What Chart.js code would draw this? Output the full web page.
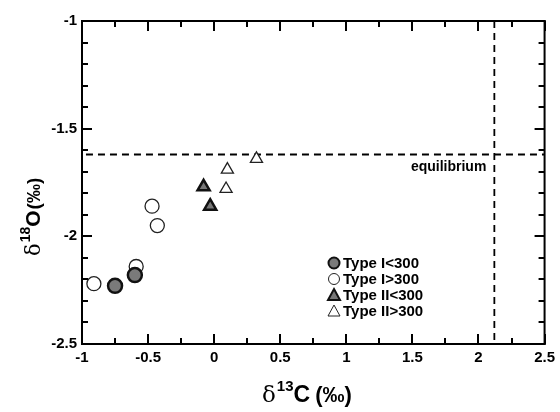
<!DOCTYPE html>
<html>
<head>
<meta charset="utf-8">
<script src="https://cdn.jsdelivr.net/npm/chart.js@4/dist/chart.umd.min.js"></script>
<style>
  html, body { margin: 0; padding: 0; background: #fff; }
  #wrap { width: 560px; height: 412px; }
</style>
</head>
<body>
<div id="wrap"><canvas id="myChart" width="560" height="412"></canvas></div>
<script>
// data
var typeILowC = [-0.75, -0.60];
var typeILowO = [-2.23, -2.18];
var typeIHighC = [-0.91, -0.59, -0.47, -0.43];
var typeIHighO = [-2.22, -2.14, -1.86, -1.95];
var typeIILowC = [-0.08, -0.03];
var typeIILowO = [-1.77, -1.86];
var typeIIHighC = [0.10, 0.09, 0.32];
var typeIIHighO = [-1.69, -1.78, -1.64];
var eqC = 2.12;
var eqO = -1.62;
var xTickLabels = ['-1', '-0.5', '0', '0.5', '1', '1.5', '2', '2.5'];
var yTickLabels = ['-1', '-1.5', '-2', '-2.5'];
var legendLabels = ['Type I<300', 'Type I>300', 'Type II<300', 'Type II>300'];

function pts(xs, ys) {
    return xs.map(function (x, i) { return { x: x, y: ys[i] }; });
}

var FONT = '"Liberation Sans", Arial, sans-serif';

function isMajor(v) {
    return Math.abs(v * 2 - Math.round(v * 2)) < 1e-6;
}

// inward ticks on all four sides, axis titles, legend and label
var decor = {
    id: 'decor',
    afterDraw: function (chart) {
        var ctx = chart.ctx;
        var a = chart.chartArea;
        var xs = chart.scales.x, ys = chart.scales.y;
        var k, v, p, len;
        ctx.save();
        ctx.setLineDash([]);
        ctx.fillStyle = '#000';
        // frame
        ctx.fillRect(a.left - 1, a.top - 1, a.right - a.left + 2, 2);
        ctx.fillRect(a.left - 1, a.bottom - 1, a.right - a.left + 2, 2);
        ctx.fillRect(a.left - 1, a.top - 1, 2, a.bottom - a.top + 2);
        ctx.fillRect(a.right - 1, a.top - 1, 2, a.bottom - a.top + 2);
        // ticks
        for (k = 0; k <= 14; k++) {
            v = -1 + k * 0.25;
            p = Math.round(xs.getPixelForValue(v));
            len = isMajor(v) ? 10 : 6;
            ctx.fillRect(p - 1, a.bottom - len, 2, len);
            ctx.fillRect(p - 1, a.top, 2, len);
        }
        for (k = 0; k <= 15; k++) {
            v = -2.5 + k * 0.1;
            p = Math.round(ys.getPixelForValue(v));
            len = isMajor(v) ? 10 : 6;
            ctx.fillRect(a.left, p - 1, len, 2);
            ctx.fillRect(a.right - len, p - 1, len, 2);
        }

        // equilibrium label
        ctx.font = 'bold 14px ' + FONT;
        ctx.textAlign = 'right';
        ctx.textBaseline = 'middle';
        ctx.fillText('equilibrium', xs.getPixelForValue(eqC) - 8, ys.getPixelForValue(eqO) + 13);

        // x title: δ13C (‰)
        ctx.textAlign = 'left';
        ctx.textBaseline = 'alphabetic';
        var bx = 262, by = 402;
        ctx.font = '23px "DejaVu Serif", serif';
        ctx.fillText('δ', bx, by);
        bx += ctx.measureText('δ').width + 1;
        ctx.font = 'bold 15px ' + FONT;
        ctx.fillText('13', bx, by - 11);
        bx += ctx.measureText('13').width;
        ctx.font = 'bold 23px ' + FONT;
        ctx.fillText('C', bx, by);
        bx += ctx.measureText('C').width + 5;
        ctx.font = 'bold 22px ' + FONT;
        ctx.fillText('(‰)', bx, by);

        // y title: δ18O(‰)
        ctx.save();
        ctx.translate(40, 256);
        ctx.rotate(-Math.PI / 2);
        bx = 0;
        ctx.font = '21px "DejaVu Serif", serif';
        ctx.fillText('δ', bx, 0);
        bx += ctx.measureText('δ').width + 1;
        ctx.font = 'bold 14px ' + FONT;
        ctx.fillText('18', bx, -10);
        bx += ctx.measureText('18').width;
        ctx.font = 'bold 21px ' + FONT;
        ctx.fillText('O', bx, 0);
        bx += ctx.measureText('O').width + 1;
        ctx.font = 'bold 19px ' + FONT;
        ctx.fillText('(‰)', bx, 0);
        ctx.restore();

        // legend
        var lx = 334, ly = 263, step = 16;
        ctx.font = 'bold 15px ' + FONT;
        ctx.textBaseline = 'middle';
        legendLabels.forEach(function (lab, j) {
            var y = ly + j * step;
            var ds = chart.data.datasets[j];
            ctx.fillStyle = ds.backgroundColor;
            ctx.strokeStyle = ds.borderColor;
            ctx.lineWidth = j % 2 === 0 ? 2 : 1;
            ctx.beginPath();
            if (j < 2) {
                ctx.arc(lx, y, 5.5, 0, Math.PI * 2);
            } else {
                ctx.moveTo(lx, y - 6);
                ctx.lineTo(lx + 6, y + 5);
                ctx.lineTo(lx - 6, y + 5);
                ctx.closePath();
            }
            ctx.fill();
            ctx.stroke();
            ctx.fillStyle = '#000';
            ctx.fillText(lab, lx + 9, y + 1);
        });
        ctx.restore();
    }
};

var ctx = document.getElementById('myChart').getContext('2d');
new Chart(ctx, {
    type: 'scatter',
    data: {
        datasets: [
            {
                label: legendLabels[0],
                data: pts(typeILowC, typeILowO),
                pointStyle: 'circle', pointRadius: 7,
                backgroundColor: '#7a7a7a', borderColor: '#111', borderWidth: 2.5
            },
            {
                label: legendLabels[1],
                data: pts(typeIHighC, typeIHighO),
                pointStyle: 'circle', pointRadius: 7,
                backgroundColor: '#fff', borderColor: '#222', borderWidth: 1.3
            },
            {
                label: legendLabels[2],
                data: pts(typeIILowC, typeIILowO),
                pointStyle: 'triangle', pointRadius: 7,
                backgroundColor: '#777', borderColor: '#111', borderWidth: 2.5
            },
            {
                label: legendLabels[3],
                data: pts(typeIIHighC, typeIIHighO),
                pointStyle: 'triangle', pointRadius: 7,
                backgroundColor: '#fff', borderColor: '#222', borderWidth: 1.3
            },
            {
                type: 'line',
                label: 'eqO',
                data: [{ x: -0.97, y: eqO }, { x: 2.5, y: eqO }],
                borderColor: '#000', borderWidth: 1.8, borderDash: [7, 5],
                pointRadius: 0, fill: false
            },
            {
                type: 'line',
                label: 'eqC',
                data: [{ x: eqC, y: -1 }, { x: eqC, y: -2.5 }],
                borderColor: '#000', borderWidth: 1.8, borderDash: [7, 5],
                pointRadius: 0, fill: false
            }
        ]
    },
    options: {
        responsive: false,
        animation: false,
        devicePixelRatio: 1,
        layout: { padding: { top: 21, right: 15, left: 0, bottom: 0 } },
        plugins: {
            legend: { display: false },
            tooltip: { enabled: false }
        },
        scales: {
            x: {
                type: 'linear', min: -1, max: 2.5,
                grid: { display: false, drawTicks: false },
                border: { display: false },
                afterFit: function (s) { s.height = 68; },
                ticks: {
                    stepSize: 0.25, padding: 5, autoSkip: false, maxRotation: 0,
                    color: '#000',
                    font: { family: FONT, size: 15, weight: 'bold' },
                    callback: function (v) {
                        if (!isMajor(v)) return '';
                        return xTickLabels[Math.round((v + 1) * 2)];
                    }
                }
            },
            y: {
                type: 'linear', min: -2.5, max: -1,
                grid: { display: false, drawTicks: false },
                border: { display: false },
                afterFit: function (s) { s.width = 82; },
                ticks: {
                    stepSize: 0.1, padding: 5, autoSkip: false,
                    color: '#000',
                    font: { family: FONT, size: 15, weight: 'bold' },
                    callback: function (v) {
                        if (!isMajor(v)) return '';
                        return yTickLabels[Math.round((-1 - v) * 2)];
                    }
                }
            }
        }
    },
    plugins: [decor]
});
</script>
</body>
</html>
